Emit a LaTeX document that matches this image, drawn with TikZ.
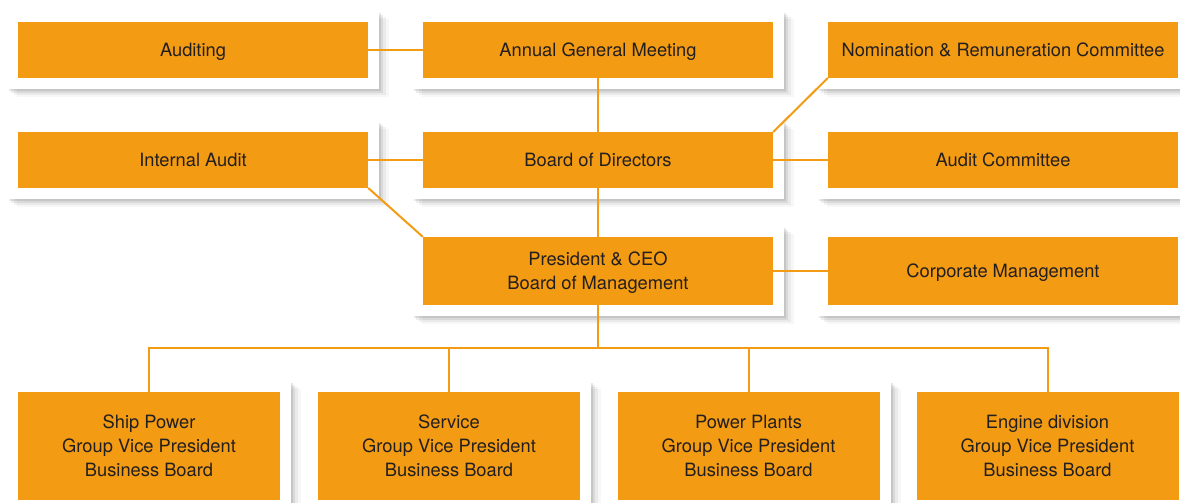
\documentclass[tikz,border=0pt]{standalone}
\usepackage{fontspec}
\setmainfont{TeX Gyre Heros}
\usepackage{tikz}
\usetikzlibrary{fit, backgrounds, shadows}
\definecolor{boxOrange}{RGB}{242,155,19}
\definecolor{textDark}{RGB}{35,31,32}

\begin{document}
\begin{tikzpicture}[x=1pt, y=-1pt,
    unit/.style={fill=boxOrange, text=textDark, align=center, inner sep=0pt,
      text depth=0pt, font=\fontsize{18.3}{24}\selectfont},
    wide/.style={unit, minimum width=350pt, minimum height=55.5pt},
    tall/.style={unit, minimum width=350pt, minimum height=68pt},
    board/.style={unit, minimum width=262pt, minimum height=108pt},
    frame/.style={fill=white, inner sep=11pt,
      drop shadow={shadow xshift=10pt, shadow yshift=-8pt, opacity=0.03, fill=black},
      drop shadow={shadow xshift=7pt, shadow yshift=-6pt, opacity=0.05, fill=black},
      drop shadow={shadow xshift=4pt, shadow yshift=-4pt, opacity=0.07, fill=black},
      drop shadow={shadow xshift=2pt, shadow yshift=-2pt, opacity=0.09, fill=black}},
    link/.style={draw=boxOrange, line width=2pt}]
    \useasboundingbox (0,0) rectangle (1180,503);

    % Top rows
    \node[wide] (aud) at (193,50) {Auditing};
    \node[wide] (agm) at (598,50) {Annual General Meeting};
    \node[wide] (nrc) at (1003,50) {Nomination \& Remuneration Committee};

    \node[wide] (ia) at (193,160) {Internal Audit};
    \node[wide] (bod) at (598,160) {Board of Directors};
    \node[wide] (ac) at (1003,160) {Audit Committee};

    \node[tall] (ceo) at (598,271) {President \& CEO\\Board of Management};
    \node[tall] (cm) at (1003,271) {Corporate Management};

    % Business boards
    \node[board] (sp) at (149,446) {Ship Power\\Group Vice President\\Business Board};
    \node[board] (sv) at (449,446) {Service\\Group Vice President\\Business Board};
    \node[board] (pp) at (748.5,446) {Power Plants\\Group Vice President\\Business Board};
    \node[board] (ed) at (1047.5,446) {Engine division\\Group Vice President\\Business Board};

    % White frames
    \begin{scope}[on background layer]
      \foreach \n in {aud, agm, nrc, ia, bod, ac, ceo, cm, sp, sv, pp, ed}
        \node[frame, fit=(\n)] {};
    \end{scope}

    % Lines
    \draw[link] (aud) -- (agm);
    \draw[link] (agm) -- (bod);
    \draw[link] (ia) -- (bod);
    \draw[link] (bod) -- (ac);
    \draw[link] (nrc.south west) -- (bod.north east);
    \draw[link] (ia.south east) -- (ceo.north west);
    \draw[link] (bod) -- (ceo);
    \draw[link] (ceo) -- (cm);

    \coordinate (bus) at (598,348);
    \foreach \b in {sp, sv, pp, ed}
      \draw[link] (ceo.south) -- (bus) -| (\b.north);
\end{tikzpicture}
\end{document}
